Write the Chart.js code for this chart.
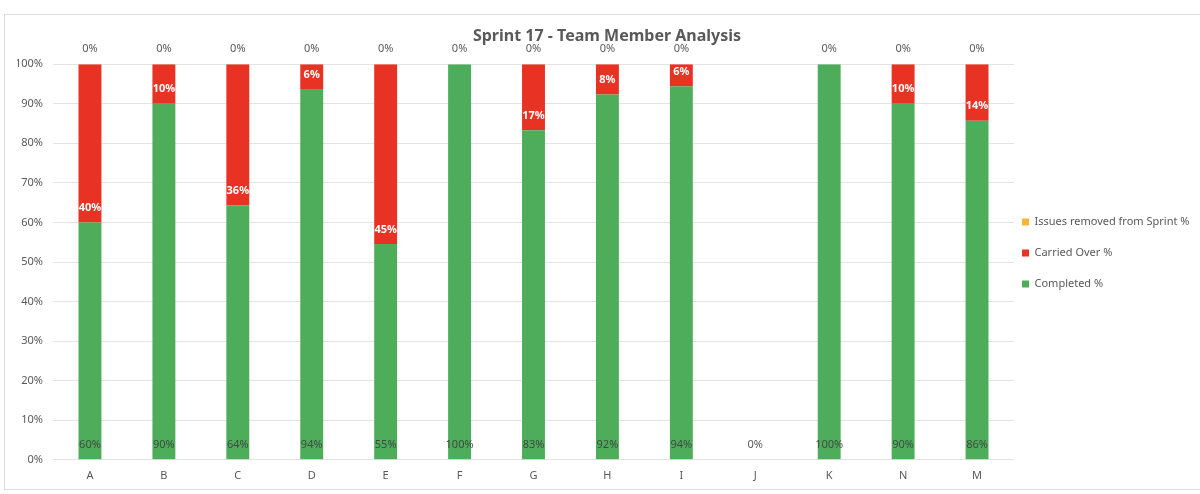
<!DOCTYPE html>
<html>
<head>
<meta charset="utf-8">
<script src="https://cdn.jsdelivr.net/npm/chart.js@4.4.1/dist/chart.umd.min.js"></script>
<style>
  html, body { margin: 0; padding: 0; background: #fff; }
  body { width: 1200px; height: 494px; overflow: hidden; position: relative; }
  .frame {
    position: absolute; left: 4px; top: 14px; width: 1200px; height: 476px;
    border: 1px solid #dcdcdc; box-sizing: border-box;
  }
  .chartWrapper { position: absolute; left: 5px; top: 15px; width: 1192px; height: 476px; }
</style>
</head>
<body>
<div class="frame"></div>
<div class="chartWrapper"><canvas id="chart"></canvas></div>
<script>
// team members
const members = ['A', 'B', 'C', 'D', 'E', 'F', 'G', 'H', 'I', 'J', 'K', 'N', 'M'];

// percentages per member (null = no issue in that bucket)
const completedPct = [60, 90, 64.29, 93.75, 54.55, 100, 83.33, 92.31, 94.44, 0, 100, 90, 85.71];
const carriedOverPct = [40, 10, 35.71, 6.25, 45.45, null, 16.67, 7.69, 5.56, null, null, 10, 14.29];
const removedPct = [0, 0, 0, 0, 0, 0, 0, 0, 0, null, 0, 0, 0];

const yTicks = [0, 10, 20, 30, 40, 50, 60, 70, 80, 90, 100];

const GREEN = '#4ead5b';
const RED = '#e83223';
const YELLOW = '#f5b731';
const TEXT = '#595959';
const FONT = '"Noto Sans", sans-serif';

// draws the Excel style data labels
const barLabels = {
  id: 'barLabels',
  afterDatasetsDraw(chart) {
    const ctx = chart.ctx;
    ctx.save();
    ctx.textAlign = 'center';
    ctx.textBaseline = 'middle';
    chart.data.datasets.forEach((ds, i) => {
      const meta = chart.getDatasetMeta(i);
      meta.data.forEach((bar, j) => {
        const v = ds.data[j];
        if (v === null || v === undefined) return;
        const txt = Math.round(v) + '%';
        let y;
        if (ds.labelMode === 'top') {
          ctx.font = '11px ' + FONT;
          ctx.fillStyle = TEXT;
          y = bar.y - 15;
        } else if (ds.labelMode === 'white') {
          ctx.font = 'bold 11px ' + FONT;
          ctx.fillStyle = '#ffffff';
          y = bar.base - 14.5;
        } else {
          ctx.font = '11px ' + FONT;
          ctx.fillStyle = v === 0 ? TEXT : '#3d4a3f';
          y = bar.base - 14.5;
        }
        ctx.fillText(txt, bar.x, y);
      });
    });
    ctx.restore();
  }
};

// nudge legend entries a bit closer to the plot, like Excel does
const legendNudge = {
  id: 'legendNudge',
  afterLayout(chart) {
    if (chart.legend) chart.legend.left -= 12;
  }
};

const ctx = document.getElementById('chart');

new Chart(ctx, {
  type: 'bar',
  data: {
    labels: members,
    datasets: [
      {
        label: 'Completed %',
        data: completedPct,
        backgroundColor: GREEN,
        labelMode: 'inside'
      },
      {
        label: 'Carried Over %',
        data: carriedOverPct,
        backgroundColor: RED,
        labelMode: 'white'
      },
      {
        label: 'Issues removed from Sprint %',
        data: removedPct,
        backgroundColor: YELLOW,
        labelMode: 'top'
      }
    ]
  },
  options: {
    responsive: true,
    maintainAspectRatio: false,
    animation: false,
    barPercentage: 0.31,
    categoryPercentage: 1,
    layout: { padding: { left: 12, right: 0, top: 0, bottom: 0 } },
    plugins: {
      title: {
        display: true,
        text: 'Sprint 17 - Team Member Analysis',
        color: TEXT,
        font: { family: FONT, size: 16, weight: 'bold' },
        padding: { top: 12, bottom: 18 }
      },
      legend: {
        position: 'right',
        reverse: true,
        maxWidth: 183,
        labels: {
          boxWidth: 7,
          boxHeight: 7,
          padding: 20,
          color: TEXT,
          font: { family: FONT, size: 11 }
        }
      },
      tooltip: { enabled: true }
    },
    scales: {
      x: {
        stacked: true,
        grid: { display: false, drawTicks: false },
        border: { display: false },
        ticks: { color: TEXT, font: { family: FONT, size: 11 }, padding: 9 }
      },
      y: {
        stacked: true,
        min: 0,
        max: 100,
        afterBuildTicks: (scale) => { scale.ticks = yTicks.map(v => ({ value: v })); },
        afterFit: (scale) => { scale.width = 36; },
        grid: { color: '#e3e3e3', drawTicks: false },
        border: { display: false },
        ticks: {
          color: TEXT,
          font: { family: FONT, size: 11 },
          padding: 10,
          callback: (v) => v + '%'
        }
      }
    }
  },
  plugins: [barLabels, legendNudge]
});
</script>
</body>
</html>
